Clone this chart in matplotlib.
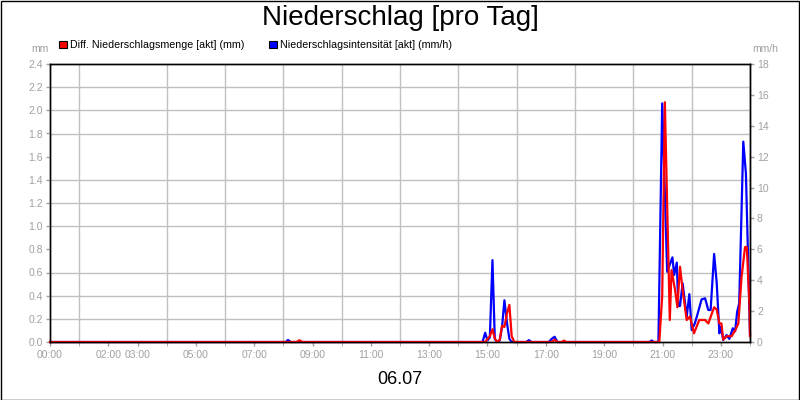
import matplotlib
matplotlib.use("Agg")
import matplotlib.pyplot as plt
from matplotlib.patches import Rectangle
import numpy as np

plt.rcParams['font.family'] = ['Liberation Sans', 'DejaVu Sans']

# Diff. Niederschlagsmenge [mm], time in hours of 06.07
red_hours = [0.0, 8.45, 8.55, 8.65, 14.92, 15.08, 15.17, 15.25, 15.33, 15.42, 15.5, 15.58,
             15.67, 15.75, 15.83, 15.92, 17.2, 17.3, 17.4, 17.55, 17.62, 17.7,
             20.89, 20.99, 21.08, 21.25, 21.31, 21.43, 21.51, 21.6, 21.69, 21.77,
             21.83, 21.94, 22.08, 22.26, 22.46, 22.57, 22.77, 22.86, 22.95, 23.02,
             23.08, 23.2, 23.37, 23.49, 23.6, 23.71, 23.83, 23.89, 23.98, 24.0]
red_mm = [0.0, 0.0, 0.015, 0.0, 0.0, 0.05, 0.11, 0.03, 0.0, 0.02, 0.14, 0.13,
          0.25, 0.32, 0.05, 0.0, 0.0, 0.02, 0.0, 0.0, 0.012, 0.0,
          0.0, 0.4, 2.07, 0.19, 0.62, 0.45, 0.30, 0.65, 0.45, 0.30,
          0.19, 0.22, 0.075, 0.19, 0.19, 0.16, 0.30, 0.28, 0.16, 0.16,
          0.02, 0.05, 0.05, 0.10, 0.16, 0.56, 0.82, 0.82, 0.33, 0.05]

# Niederschlagsintensitaet [mm/h]
blue_hours = [0.0, 8.08, 8.16, 8.25, 14.83, 14.92, 15.0, 15.08, 15.17, 15.25, 15.33,
              15.42, 15.5, 15.58, 15.67, 15.75, 15.83, 16.33, 16.42, 16.5,
              17.1, 17.2, 17.3, 17.4, 20.55, 20.63, 20.7, 20.86, 20.99, 21.16,
              21.34, 21.4, 21.49, 21.54, 21.6, 21.69, 21.83, 21.92, 22.0, 22.11,
              22.23, 22.34, 22.46, 22.57, 22.65, 22.77, 22.86, 22.95, 23.01, 23.08,
              23.2, 23.29, 23.41, 23.49, 23.56, 23.63, 23.77, 23.86, 23.94, 24.0]
blue_mmh = [0.0, 0.0, 0.13, 0.0, 0.0, 0.6, 0.1, 0.3, 5.3, 0.2, 0.0,
            0.1, 1.0, 2.7, 1.2, 0.2, 0.0, 0.0, 0.12, 0.0,
            0.0, 0.2, 0.34, 0.0, 0.0, 0.1, 0.0, 0.0, 15.45, 4.55,
            5.48, 4.34, 5.14, 2.33, 2.33, 3.8, 1.64, 3.1, 0.78, 1.21,
            2.0, 2.76, 2.83, 2.07, 2.07, 5.7, 3.8, 0.56, 0.99, 0.13,
            0.45, 0.2, 0.89, 0.7, 1.96, 2.5, 12.97, 10.9, 5.0, 0.45]

tick_hours = [0, 2, 3, 5, 7, 9, 11, 13, 15, 17, 19, 21, 23]
tick_labels = [f"{h:02d}:00" for h in tick_hours]
left_ticks = np.arange(0, 2.41, 0.2)
right_ticks = np.arange(0, 19, 2)

gray = '#a0a0a0'
W, H = 800, 400

fig = plt.figure(figsize=(8, 4), dpi=100)
fig.patch.set_facecolor('white')
fig.add_artist(Rectangle((0.5 / W, 0.5 / H), 1 - 1.5 / W, 1 - 1.5 / H, transform=fig.transFigure,
                         fill=False, edgecolor='black', lw=1))

# ax2 (bottom): x axis, grid, blue curve, right scale
# ax (top): red curve, left scale
ax2 = fig.add_axes([50 / W, (H - 342) / H, 700 / W, 278 / H])
ax = ax2.twinx()
ax.yaxis.tick_left()
ax2.yaxis.tick_right()
ax.set_zorder(ax2.get_zorder() + 1)
ax.patch.set_visible(False)

ax2.set_xlim(0, 24)
ax.set_ylim(0, 2.4)
ax2.set_ylim(0, 18)

ax2.set_xticks(tick_hours)
ax2.set_xticklabels(tick_labels)
ax2.set_xticks(range(25), minor=True)
ax2.set_yticks(left_ticks * 7.5, minor=True)
ax2.grid(which='minor', color='#c0c0c0', lw=1)
ax2.tick_params(axis='y', which='minor', length=0)
ax2.tick_params(axis='x', which='minor', colors=gray, length=3)

ax2.plot(blue_hours, blue_mmh, color='#0000ff', lw=1.6, clip_on=False)
ax.plot(red_hours, red_mm, color='#ff0000', lw=1.6, clip_on=False)

ax.set_yticks(left_ticks)
ax.set_yticklabels([f"{v:.1f}" for v in left_ticks])
ax2.set_yticks(right_ticks)
ax2.set_yticklabels([f"{v:d}" for v in right_ticks])

for a in (ax, ax2):
    a.tick_params(which='major', colors=gray, labelsize=7.5, length=3, width=1, pad=2)
    for s in a.spines.values():
        s.set_color('black')
        s.set_linewidth(1)
ax2.tick_params(axis='x', which='major', pad=3)

fig.text(0.5, 1 - 18 / H, "Niederschlag [pro Tag]", ha='center', va='center', fontsize=20)
fig.text(400 / W, 1 - 380 / H, "06.07", ha='center', va='center', fontsize=13)
fig.text(40 / W, 1 - 49 / H, "mm", ha='center', va='center', fontsize=7.5, color=gray)
fig.text(765 / W, 1 - 49 / H, "mm/h", ha='center', va='center', fontsize=7.5, color=gray)

legend = [("Diff. Niederschlagsmenge [akt] (mm)", '#ff0000', 59),
          ("Niederschlagsintensität [akt] (mm/h)", '#0000ff', 269)]
for label, col, x0 in legend:
    fig.add_artist(Rectangle((x0 / W, 1 - 48 / H), 8 / W, 7 / H, transform=fig.transFigure,
                             facecolor=col, edgecolor='black', lw=0.8))
    fig.text((x0 + 11) / W, 1 - 44.5 / H, label, ha='left', va='center', fontsize=7.7)

fig.savefig("out.png", dpi=100)
